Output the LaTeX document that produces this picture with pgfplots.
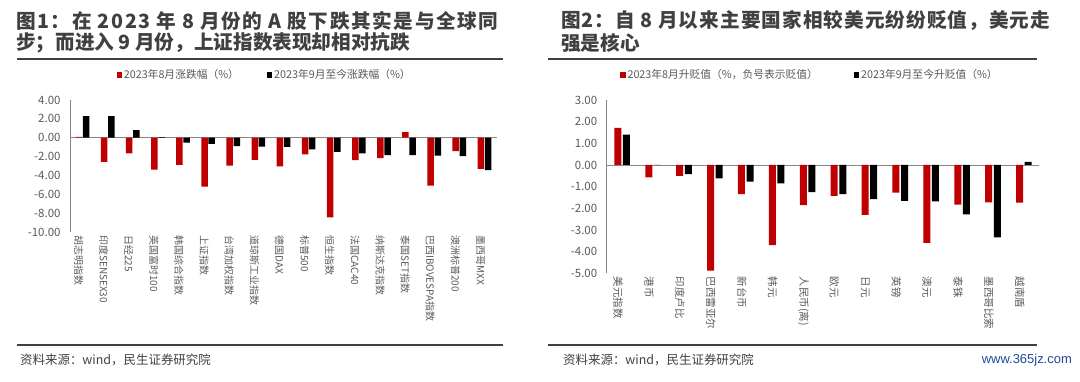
\documentclass[border=0pt]{standalone}
\usepackage{fontspec}
\usepackage{pgfplots}
\pgfplotsset{compat=1.18}
\setmainfont{Noto Sans CJK SC}
\newfontfamily\titlefont[LetterSpace=8.2]{Noto Sans CJK SC}
\newfontfamily\titlefontr[LetterSpace=5.4]{Noto Sans CJK SC}
\newfontfamily\titlefontn{Noto Sans CJK SC}
\newfontfamily\wmfont{Liberation Sans}
\definecolor{redbar}{HTML}{C00000}
\definecolor{txtgray}{HTML}{595959}
\definecolor{titlegray}{HTML}{404040}
\definecolor{axisgray}{HTML}{868686}
\pgfplotsset{
  mystyle/.style={
    scale only axis,
    axis y line*=left,
    axis x line*=bottom,
    x axis line style={draw=none},
    y axis line style={axisgray, line width=0.9bp},
    major tick length=0pt,
    yticklabel style={font=\fontsize{11.5}{12}\selectfont, text=txtgray, xshift=-6bp},
    /pgf/number format/.cd, fixed, fixed zerofill, precision=2, assume math mode=true,
    /pgfplots/.cd,
    xtick pos=bottom,
    extra y ticks={0},
    extra y tick labels={},
    extra y tick style={grid=major, major grid style={axisgray, line width=0.9bp}},
    legend style={draw=none, fill=none, text=txtgray, font=\fontsize{10.8}{11}\selectfont,
      /tikz/every even column/.append style={column sep=26bp}, inner sep=0pt},
    legend cell align=left,
    legend columns=2,
    legend image code/.code={\fill[##1] (0bp,-2.6bp) rectangle (5.2bp,2.6bp);},
  }
}
\begin{document}
\begin{tikzpicture}
\useasboundingbox (0bp,0bp) rectangle (1080bp,382bp);
% titles
\node[anchor=west, inner sep=0, text=titlegray] at (16bp,361bp) {\titlefont\bfseries\fontsize{19.7}{20}\selectfont 图1：在 2023 年 8 月份的 A 股下跌其实是与全球同};
\node[anchor=west, inner sep=0, text=titlegray] at (16bp,339bp) {\titlefontn\bfseries\fontsize{19.7}{20}\selectfont 步；而进入 9 月份，上证指数表现却相对抗跌};
\node[anchor=west, inner sep=0, text=titlegray] at (561bp,361bp) {\titlefontr\bfseries\fontsize{19.7}{20}\selectfont 图2：自 8 月以来主要国家相较美元纷纷贬值，美元走};
\node[anchor=west, inner sep=0, text=titlegray] at (561bp,339bp) {\titlefontn\bfseries\fontsize{19.7}{20}\selectfont 强是核心};
\draw[titlegray, line width=2.5bp] (17bp,323bp) -- (503bp,323bp);
\draw[titlegray, line width=2.5bp] (548bp,323bp) -- (1037bp,323bp);
\draw[titlegray, line width=2.5bp] (17bp,37bp) -- (503bp,37bp);
\draw[titlegray, line width=2.5bp] (548bp,37bp) -- (1037bp,37bp);
\node[anchor=west, inner sep=0, text=titlegray] at (20bp,22bp) {\fontsize{12.5}{13}\selectfont 资料来源：wind，民生证券研究院};
\node[anchor=west, inner sep=0, text=titlegray] at (563bp,22bp) {\fontsize{12.5}{13}\selectfont 资料来源：wind，民生证券研究院};
\node[anchor=east, inner sep=0, text={rgb,255:red,30;green,74;blue,154}] at (1072bp,22bp) {\wmfont\fontsize{13}{14}\selectfont www.365jz.com};

% left chart
\begin{axis}[mystyle,
  at={(70bp,150bp)}, anchor=south west,
  width=427bp, height=132bp,
  xmin=-0.5, xmax=16.5, ymin=-10, ymax=4,
  ytick={-10,-8,...,4},
  xtick={0,...,16},
  xticklabels={胡志明指数,印度SENSEX30,日经225,英国富时100,韩国综合指数,上证指数,台湾加权指数,道琼斯工业指数,德国DAX,标普500,恒生指数,法国CAC40,纳斯达克指数,泰国SET指数,巴西IBOVESPA指数,澳洲标普200,墨西哥MXX},
  xticklabel style={rotate=-90, anchor=west, font=\fontsize{10}{10}\selectfont, text=txtgray, yshift=-4bp},
  legend style={at={(0.456,1.19)}, anchor=center},
]
\addplot[ybar, bar width=6.5bp, bar shift=-3.6bp, fill=redbar, draw=none] coordinates {
(0,0.08) (1,-2.55) (2,-1.67) (3,-3.38) (4,-2.87) (5,-5.20) (6,-2.97) (7,-2.36) (8,-3.04) (9,-1.77) (10,-8.45) (11,-2.38) (12,-2.17) (13,0.58) (14,-5.09) (15,-1.42) (16,-3.30)};
\addlegendentry{2023年8月涨跌幅（\%）}
\addplot[ybar, bar width=6.5bp, bar shift=3.6bp, fill=black, draw=none] coordinates {
(0,2.28) (1,2.28) (2,0.80) (3,0.05) (4,-0.52) (5,-0.65) (6,-0.88) (7,-0.95) (8,-0.97) (9,-1.24) (10,-1.49) (11,-1.66) (12,-1.84) (13,-1.84) (14,-1.90) (15,-1.95) (16,-3.45)};
\addlegendentry{2023年9月至今涨跌幅（\%）}
\end{axis}

% right chart
\begin{axis}[mystyle,
  at={(606.7bp,108.7bp)}, anchor=south west,
  width=432.6bp, height=173.3bp,
  xmin=-0.5, xmax=13.5, ymin=-5, ymax=3,
  ytick={-5,-4,...,3},
  xtick={0,...,13},
  xticklabels={美元指数,港币,印度卢比,巴西雷亚尔,新台币,韩元,人民币(离),欧元,日元,英镑,澳元,泰铢,墨西哥比索,越南盾},
  xticklabel style={rotate=-90, anchor=west, font=\fontsize{10.5}{11}\selectfont, text=txtgray, yshift=-4bp},
  legend style={at={(0.47,1.144)}, anchor=center,
    /tikz/every even column/.append style={column sep=34bp}},
]
\addplot[ybar, bar width=7bp, bar shift=-4.3bp, fill=redbar, draw=none] coordinates {
(0,1.71) (1,-0.57) (2,-0.50) (3,-4.88) (4,-1.35) (5,-3.70) (6,-1.85) (7,-1.43) (8,-2.30) (9,-1.28) (10,-3.60) (11,-1.83) (12,-1.72) (13,-1.74)};
\addlegendentry{2023年8月升贬值（\%，负号表示贬值）}
\addplot[ybar, bar width=7bp, bar shift=4.3bp, fill=black, draw=none] coordinates {
(0,1.40) (1,0.00) (2,-0.42) (3,-0.62) (4,-0.77) (5,-0.85) (6,-1.25) (7,-1.35) (8,-1.58) (9,-1.66) (10,-1.68) (11,-2.28) (12,-3.34) (13,0.14)};
\addlegendentry{2023年9月至今升贬值（\%）}
\end{axis}
\end{tikzpicture}
\end{document}
